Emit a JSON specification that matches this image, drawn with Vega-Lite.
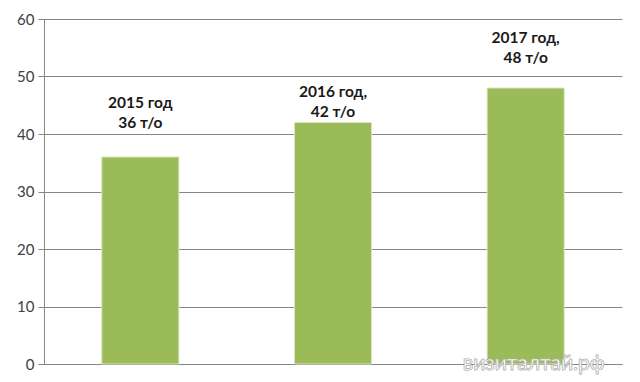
{
  "$schema": "https://vega.github.io/schema/vega-lite/v6.json",
  "width": 578,
  "height": 345,
  "autosize": "none",
  "padding": {"left": 44, "top": 19, "right": 18, "bottom": 18},
  "background": "white",
  "config": {"view": {"stroke": null}, "font": "Lato"},
  "data": {"values": [
    {"year": "2015", "value": 36, "line1": "2015 год", "line2": "36 т/о"},
    {"year": "2016", "value": 42, "line1": "2016 год,", "line2": "42 т/о"},
    {"year": "2017", "value": 48, "line1": "2017 год,", "line2": "48 т/о"}
  ]},
  "encoding": {
    "x": {"field": "year", "type": "nominal", "scale": {"paddingInner": 0.6, "paddingOuter": 0.3},
      "axis": {"labels": false, "ticks": false, "title": null, "domainColor": "#868686", "domainWidth": 1}},
    "y": {"field": "value", "type": "quantitative", "scale": {"domain": [0, 60]},
      "axis": {"values": [0, 10, 20, 30, 40, 50, 60], "title": null, "domain": true, "domainColor": "#868686",
        "gridColor": "#868686", "gridWidth": 1, "tickColor": "#868686", "tickSize": 6, "labelPadding": 4,
        "labelFontSize": 15, "labelColor": "#404040", "labelFont": "Lato"}}
  },
  "layer": [
    {"mark": {"type": "bar", "color": "#9BBB59", "stroke": "#d9e6c0", "strokeWidth": 1}},
    {"transform": [{"filter": "datum.year == '2015'"}],
      "mark": {"type": "text", "baseline": "alphabetic", "dy": -49, "fontSize": 15.5, "fontWeight": "bold", "color": "#1a1a1a"},
      "encoding": {"text": {"field": "line1"}}},
    {"transform": [{"filter": "datum.year == '2015'"}],
      "mark": {"type": "text", "baseline": "alphabetic", "dy": -29, "fontSize": 15.5, "fontWeight": "bold", "color": "#1a1a1a"},
      "encoding": {"text": {"field": "line2"}}},
    {"transform": [{"filter": "datum.year == '2016'"}],
      "mark": {"type": "text", "baseline": "alphabetic", "dy": -26, "fontSize": 15.5, "fontWeight": "bold", "color": "#1a1a1a"},
      "encoding": {"text": {"field": "line1"}}},
    {"transform": [{"filter": "datum.year == '2016'"}],
      "mark": {"type": "text", "baseline": "alphabetic", "dy": -6, "fontSize": 15.5, "fontWeight": "bold", "color": "#1a1a1a"},
      "encoding": {"text": {"field": "line2"}}},
    {"transform": [{"filter": "datum.year == '2017'"}],
      "mark": {"type": "text", "baseline": "alphabetic", "dy": -45, "fontSize": 15.5, "fontWeight": "bold", "color": "#1a1a1a"},
      "encoding": {"text": {"field": "line1"}}},
    {"transform": [{"filter": "datum.year == '2017'"}],
      "mark": {"type": "text", "baseline": "alphabetic", "dy": -25, "fontSize": 15.5, "fontWeight": "bold", "color": "#1a1a1a"},
      "encoding": {"text": {"field": "line2"}}},
    {"mark": {"type": "text", "fontSize": 21, "color": "white", "stroke": "#b0b0b0", "strokeWidth": 0.6, "baseline": "middle", "dx": 8, "opacity": 0.9},
      "encoding": {"x": {"datum": "2017"}, "y": {"datum": 0}, "text": {"value": "визиталтай.рф"}}}
  ]
}
